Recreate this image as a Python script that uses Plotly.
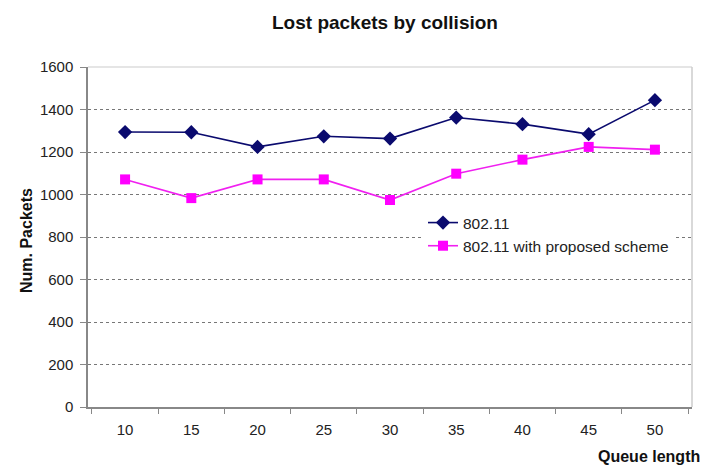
import plotly.graph_objects as go

queue_lengths = ["10", "15", "20", "25", "30", "35", "40", "45", "50"]
lost_80211 = [1294, 1293, 1224, 1274, 1263, 1362, 1331, 1284, 1444]
lost_proposed = [1071, 983, 1071, 1071, 974, 1098, 1164, 1224, 1211]
y_ticks = [0, 200, 400, 600, 800, 1000, 1200, 1400, 1600]

FONT = "Liberation Sans, Arial, sans-serif"
PLOT_L, PLOT_R, PLOT_T, PLOT_B = 88, 692, 67, 407
PW, PH = PLOT_R - PLOT_L, PLOT_B - PLOT_T

fig = go.Figure()
fig.add_trace(go.Scatter(
    x=queue_lengths, y=lost_80211, name="802.11", mode="lines+markers",
    line=dict(color="#0a0a6e", width=1.6),
    marker=dict(symbol="diamond", size=11, color="#0a0a6e"),
))
fig.add_trace(go.Scatter(
    x=queue_lengths, y=lost_proposed, name="802.11 with proposed scheme",
    mode="lines+markers",
    line=dict(color="#f020f0", width=1.6),
    marker=dict(symbol="square", size=10, color="#ff00ff"),
))

fig.update_layout(
    width=705, height=465,
    margin=dict(l=PLOT_L, r=705 - PLOT_R, t=PLOT_T, b=465 - PLOT_B),
    paper_bgcolor="white", plot_bgcolor="white",
    font=dict(family=FONT, size=15, color="#222222"),
    showlegend=True,
    legend=dict(
        x=(423 - PLOT_L) / PW, y=(PLOT_B - 206) / PH, xanchor="left", yanchor="top",
        bgcolor="white", borderwidth=0,
        font=dict(family=FONT, size=15.5, color="#222222"),
    ),
    xaxis=dict(
        type="category", tickson="boundaries",
        showline=True, linecolor="#888888", linewidth=1.5,
        ticks="outside", ticklen=5, tickcolor="#888888",
        ticklabelstandoff=8,
        showgrid=False, mirror=False,
        tickfont=dict(size=15, color="#222222"),
    ),
    yaxis=dict(
        range=[0, 1600], tickvals=y_ticks,
        showline=True, linecolor="#888888", linewidth=1.5,
        ticks="outside", ticklen=6, tickcolor="#888888",
        ticklabelstandoff=4,
        showgrid=True, gridcolor="#777777", griddash="dot", gridwidth=1.2,
        zeroline=False,
        tickfont=dict(size=15, color="#222222"),
    ),
    shapes=[
        dict(type="line", xref="paper", yref="paper", x0=0, x1=1, y0=1, y1=1,
             line=dict(color="#cccccc", width=1.2)),
        dict(type="line", xref="paper", yref="paper", x0=1, x1=1, y0=0, y1=1,
             line=dict(color="#cccccc", width=1.5)),
    ],
    annotations=[
        dict(text="<b>Lost packets by collision</b>", xref="paper", yref="paper",
             x=(385 - PLOT_L) / PW, y=1 + (PLOT_T - 22) / PH, xanchor="center", yanchor="middle",
             showarrow=False, font=dict(family=FONT, size=19, color="#111111")),
        dict(text="<b>Num. Packets</b>", xref="paper", yref="paper",
             x=-(PLOT_L - 26) / PW, y=(PLOT_B - 241) / PH, xanchor="center", yanchor="middle",
             textangle=-90, showarrow=False,
             font=dict(family=FONT, size=16, color="#111111")),
        dict(text="<b>Queue length</b>", xref="paper", yref="paper",
             x=(702 - PLOT_L) / PW, y=-(456 - PLOT_B) / PH, xanchor="right", yanchor="middle",
             showarrow=False, font=dict(family=FONT, size=16, color="#111111")),
    ],
)

fig.write_html("out.html")
